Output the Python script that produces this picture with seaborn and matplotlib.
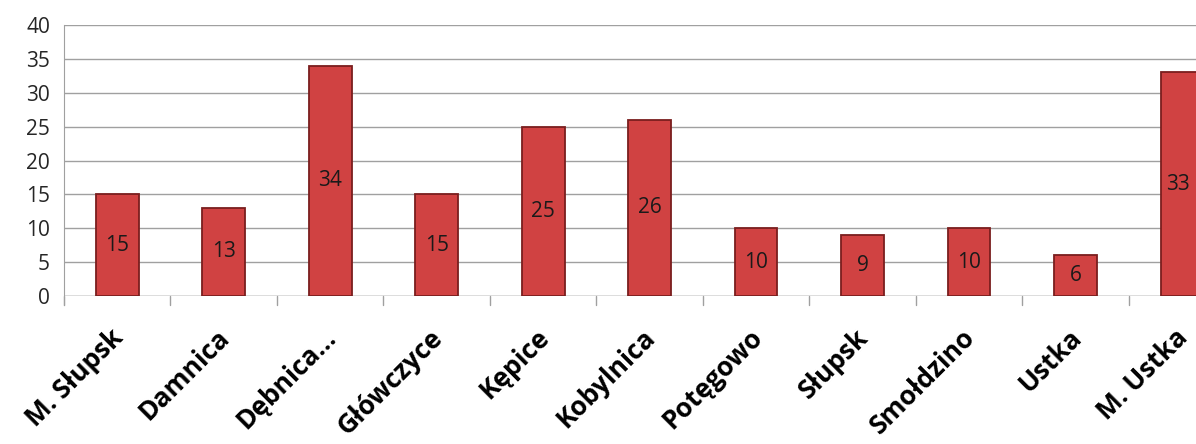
import pandas as pd
import seaborn as sns
import matplotlib.pyplot as plt
import matplotlib.transforms as mtransforms

# dane
gminy = ['M. Słupsk', 'Damnica', 'Dębnica...', 'Główczyce', 'Kępice', 'Kobylnica',
         'Potęgowo', 'Słupsk', 'Smołdzino', 'Ustka', 'M. Ustka']
wartosci = [15, 13, 34, 15, 25, 26, 10, 9, 10, 6, 33]

df = pd.DataFrame({'gmina': gminy, 'wartosc': wartosci})

sns.set_style('white')
plt.rcParams['font.family'] = ['Open Sans', 'DejaVu Sans']

fig = plt.figure(figsize=(11.96, 4.44), dpi=100)
ax = fig.add_axes([64 / 1196, 1 - 296 / 444, 1132 / 1196, 271 / 444])

sns.barplot(data=df, x='gmina', y='wartosc', color='#D04242', width=0.40,
            edgecolor='#7A1E1E', linewidth=1.3, saturation=1, ax=ax)

for c in ax.containers:
    ax.bar_label(c, label_type='center', fontsize=15, color='#1a1a1a')

ax.set_ylim(0, 40)
ax.set_yticks(range(0, 41, 5))
ax.set_xlim(-0.5, 10.13)
ax.yaxis.grid(True, color='#A0A0A0', linewidth=1)
ax.set_axisbelow(True)

for s in ['top', 'right', 'bottom']:
    ax.spines[s].set_visible(False)
ax.spines['left'].set_color('#A0A0A0')
ax.spines['left'].set_bounds(-1.4, 40)
ax.axhline(0, color='#A0A0A0', linewidth=1, zorder=0)

# kreski miedzy kategoriami
for i in range(11):
    ax.plot([i - 0.5, i - 0.5], [0, -1.4], color='#A0A0A0', lw=1, clip_on=False)

ax.tick_params(axis='y', length=8, color='#A0A0A0', labelsize=15, pad=2)
ax.tick_params(axis='x', length=0, pad=27)
ax.set_xticks(range(11))
ax.set_xticklabels(gminy, rotation=45, ha='right', va='center', rotation_mode='anchor',
                   fontsize=19, fontweight='bold', color='black',
                   family=['Open Sans', 'DejaVu Sans'])
# lekkie przesuniecie etykiet w prawo
przes = mtransforms.ScaledTranslation(2 / 100, 0, fig.dpi_scale_trans)
for lab in ax.get_xticklabels():
    lab.set_transform(lab.get_transform() + przes)
ax.set_xlabel('')
ax.set_ylabel('')

fig.savefig('out.png', dpi=100)
